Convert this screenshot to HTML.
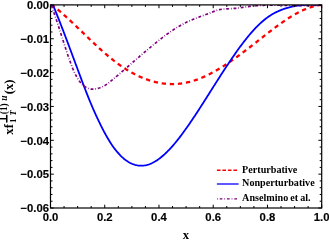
<!DOCTYPE html>
<html><head><meta charset="utf-8"><title>plot</title>
<style>
html,body{margin:0;padding:0;background:#fff;}
svg{display:block;will-change:transform;}
.tl text{font-family:"Liberation Sans",sans-serif;font-weight:bold;font-size:11.3px;fill:#000;stroke:#000;stroke-width:0.15px;}
.sf{font-family:"Liberation Serif",serif;font-weight:bold;fill:#000;}
</style></head><body>
<svg width="329" height="240" viewBox="0 0 329 240">
<clipPath id="c"><rect x="50.5" y="4.9" width="271.2" height="203.1"/></clipPath>
<g clip-path="url(#c)" fill="none">
<path d="M51.80,4.90 L52.70,5.59 L53.61,6.28 L54.51,6.99 L55.41,7.71 L56.31,8.44 L57.22,9.18 L58.12,9.92 L59.02,10.68 L59.92,11.44 L60.83,12.21 L61.73,12.99 L62.63,13.78 L63.53,14.57 L64.44,15.37 L65.34,16.18 L66.24,16.99 L67.15,17.81 L68.05,18.63 L68.95,19.46 L69.85,20.30 L70.76,21.14 L71.66,21.98 L72.56,22.83 L73.46,23.68 L74.37,24.53 L75.27,25.39 L76.17,26.25 L77.07,27.11 L77.98,27.97 L78.88,28.84 L79.78,29.71 L80.69,30.58 L81.59,31.45 L82.49,32.32 L83.39,33.19 L84.30,34.06 L85.20,34.93 L86.10,35.80 L87.00,36.67 L87.91,37.54 L88.81,38.41 L89.71,39.28 L90.62,40.14 L91.52,41.00 L92.42,41.86 L93.32,42.71 L94.23,43.57 L95.13,44.41 L96.03,45.26 L96.93,46.10 L97.84,46.93 L98.74,47.77 L99.64,48.59 L100.54,49.41 L101.45,50.23 L102.35,51.04 L103.25,51.84 L104.16,52.63 L105.06,53.42 L105.96,54.20 L106.86,54.98 L107.77,55.75 L108.67,56.50 L109.57,57.25 L110.47,57.99 L111.38,58.73 L112.28,59.45 L113.18,60.16 L114.08,60.86 L114.99,61.56 L115.89,62.24 L116.79,62.91 L117.70,63.58 L118.60,64.23 L119.50,64.88 L120.40,65.51 L121.31,66.13 L122.21,66.75 L123.11,67.35 L124.01,67.94 L124.92,68.52 L125.82,69.10 L126.72,69.66 L127.62,70.21 L128.53,70.75 L129.43,71.28 L130.33,71.81 L131.24,72.32 L132.14,72.82 L133.04,73.31 L133.94,73.79 L134.85,74.25 L135.75,74.71 L136.65,75.16 L137.55,75.60 L138.46,76.02 L139.36,76.44 L140.26,76.85 L141.16,77.24 L142.07,77.62 L142.97,78.00 L143.87,78.36 L144.78,78.71 L145.68,79.05 L146.58,79.38 L147.48,79.70 L148.39,80.00 L149.29,80.30 L150.19,80.59 L151.09,80.86 L152.00,81.12 L152.90,81.38 L153.80,81.62 L154.71,81.85 L155.61,82.07 L156.51,82.27 L157.41,82.47 L158.32,82.66 L159.22,82.83 L160.12,82.99 L161.02,83.14 L161.93,83.28 L162.83,83.41 L163.73,83.53 L164.63,83.63 L165.54,83.73 L166.44,83.81 L167.34,83.88 L168.25,83.94 L169.15,83.99 L170.05,84.02 L170.95,84.04 L171.86,84.06 L172.76,84.06 L173.66,84.05 L174.56,84.02 L175.47,83.99 L176.37,83.94 L177.27,83.88 L178.17,83.81 L179.08,83.73 L179.98,83.63 L180.88,83.53 L181.79,83.41 L182.69,83.28 L183.59,83.13 L184.49,82.98 L185.40,82.81 L186.30,82.63 L187.20,82.44 L188.10,82.24 L189.01,82.02 L189.91,81.79 L190.81,81.55 L191.71,81.30 L192.62,81.03 L193.52,80.76 L194.42,80.47 L195.33,80.17 L196.23,79.87 L197.13,79.55 L198.03,79.22 L198.94,78.87 L199.84,78.52 L200.74,78.16 L201.64,77.79 L202.55,77.41 L203.45,77.01 L204.35,76.61 L205.25,76.20 L206.16,75.78 L207.06,75.35 L207.96,74.91 L208.87,74.46 L209.77,74.01 L210.67,73.54 L211.57,73.07 L212.48,72.58 L213.38,72.09 L214.28,71.59 L215.18,71.09 L216.09,70.57 L216.99,70.05 L217.89,69.52 L218.79,68.99 L219.70,68.44 L220.60,67.89 L221.50,67.33 L222.41,66.77 L223.31,66.20 L224.21,65.62 L225.11,65.04 L226.02,64.45 L226.92,63.85 L227.82,63.25 L228.72,62.64 L229.63,62.03 L230.53,61.41 L231.43,60.79 L232.34,60.16 L233.24,59.53 L234.14,58.89 L235.04,58.25 L235.95,57.60 L236.85,56.95 L237.75,56.29 L238.65,55.63 L239.56,54.97 L240.46,54.30 L241.36,53.63 L242.26,52.95 L243.17,52.28 L244.07,51.60 L244.97,50.91 L245.88,50.23 L246.78,49.54 L247.68,48.85 L248.58,48.15 L249.49,47.46 L250.39,46.76 L251.29,46.06 L252.19,45.35 L253.10,44.65 L254.00,43.95 L254.90,43.24 L255.80,42.53 L256.71,41.82 L257.61,41.11 L258.51,40.40 L259.42,39.69 L260.32,38.98 L261.22,38.27 L262.12,37.56 L263.03,36.85 L263.93,36.14 L264.83,35.44 L265.73,34.73 L266.64,34.03 L267.54,33.32 L268.44,32.62 L269.34,31.93 L270.25,31.23 L271.15,30.54 L272.05,29.85 L272.96,29.17 L273.86,28.49 L274.76,27.81 L275.66,27.14 L276.57,26.47 L277.47,25.81 L278.37,25.15 L279.27,24.50 L280.18,23.85 L281.08,23.21 L281.98,22.57 L282.88,21.95 L283.79,21.33 L284.69,20.71 L285.59,20.11 L286.50,19.51 L287.40,18.92 L288.30,18.33 L289.20,17.76 L290.11,17.19 L291.01,16.63 L291.91,16.09 L292.81,15.55 L293.72,15.02 L294.62,14.50 L295.52,13.99 L296.43,13.49 L297.33,13.01 L298.23,12.53 L299.13,12.07 L300.04,11.61 L300.94,11.17 L301.84,10.74 L302.74,10.32 L303.65,9.92 L304.55,9.53 L305.45,9.15 L306.35,8.79 L307.26,8.43 L308.16,8.10 L309.06,7.77 L309.97,7.47 L310.87,7.17 L311.77,6.89 L312.67,6.63 L313.58,6.38 L314.48,6.15 L315.38,5.94 L316.28,5.74 L317.19,5.55 L318.09,5.39 L318.99,5.24 L319.89,5.11 L320.80,4.99 L321.70,4.90" stroke="#ff0000" stroke-width="2.3" stroke-dasharray="4.3 3.8" stroke-dashoffset="0.7"/>
<path d="M52.90,4.90 L53.80,7.04 L54.70,9.20 L55.60,11.40 L56.50,13.61 L57.39,15.85 L58.29,18.11 L59.19,20.39 L60.09,22.68 L60.99,24.99 L61.89,27.32 L62.79,29.66 L63.69,32.01 L64.59,34.37 L65.49,36.74 L66.38,39.12 L67.28,41.51 L68.18,43.90 L69.08,46.30 L69.98,48.70 L70.88,51.11 L71.78,53.52 L72.68,55.94 L73.58,58.36 L74.48,60.78 L75.37,63.19 L76.27,65.61 L77.17,68.03 L78.07,70.45 L78.97,72.87 L79.87,75.28 L80.77,77.68 L81.67,80.07 L82.57,82.46 L83.47,84.83 L84.36,87.18 L85.26,89.51 L86.16,91.83 L87.06,94.12 L87.96,96.39 L88.86,98.62 L89.76,100.83 L90.66,103.01 L91.56,105.15 L92.46,107.26 L93.35,109.33 L94.25,111.37 L95.15,113.37 L96.05,115.35 L96.95,117.29 L97.85,119.20 L98.75,121.09 L99.65,122.95 L100.55,124.78 L101.45,126.59 L102.34,128.38 L103.24,130.13 L104.14,131.85 L105.04,133.53 L105.94,135.17 L106.84,136.77 L107.74,138.32 L108.64,139.83 L109.54,141.29 L110.44,142.71 L111.33,144.08 L112.23,145.40 L113.13,146.69 L114.03,147.93 L114.93,149.12 L115.83,150.28 L116.73,151.39 L117.63,152.45 L118.53,153.47 L119.43,154.45 L120.32,155.39 L121.22,156.28 L122.12,157.13 L123.02,157.94 L123.92,158.71 L124.82,159.44 L125.72,160.12 L126.62,160.77 L127.52,161.37 L128.42,161.94 L129.31,162.46 L130.21,162.94 L131.11,163.38 L132.01,163.79 L132.91,164.15 L133.81,164.48 L134.71,164.76 L135.61,165.01 L136.51,165.22 L137.41,165.40 L138.30,165.53 L139.20,165.63 L140.10,165.69 L141.00,165.71 L141.90,165.70 L142.80,165.65 L143.70,165.56 L144.60,165.44 L145.50,165.28 L146.40,165.09 L147.29,164.86 L148.19,164.60 L149.09,164.30 L149.99,163.97 L150.89,163.60 L151.79,163.20 L152.69,162.77 L153.59,162.31 L154.49,161.81 L155.39,161.29 L156.28,160.73 L157.18,160.14 L158.08,159.53 L158.98,158.88 L159.88,158.21 L160.78,157.51 L161.68,156.78 L162.58,156.02 L163.48,155.24 L164.38,154.44 L165.27,153.61 L166.17,152.75 L167.07,151.87 L167.97,150.97 L168.87,150.04 L169.77,149.09 L170.67,148.12 L171.57,147.13 L172.47,146.12 L173.37,145.08 L174.26,144.03 L175.16,142.96 L176.06,141.87 L176.96,140.76 L177.86,139.64 L178.76,138.50 L179.66,137.34 L180.56,136.16 L181.46,134.98 L182.36,133.77 L183.25,132.55 L184.15,131.32 L185.05,130.08 L185.95,128.82 L186.85,127.55 L187.75,126.27 L188.65,124.98 L189.55,123.67 L190.45,122.36 L191.35,121.04 L192.24,119.71 L193.14,118.36 L194.04,117.02 L194.94,115.66 L195.84,114.29 L196.74,112.92 L197.64,111.54 L198.54,110.16 L199.44,108.77 L200.34,107.37 L201.23,105.97 L202.13,104.57 L203.03,103.16 L203.93,101.75 L204.83,100.33 L205.73,98.92 L206.63,97.50 L207.53,96.08 L208.43,94.65 L209.33,93.23 L210.22,91.81 L211.12,90.39 L212.02,88.96 L212.92,87.54 L213.82,86.12 L214.72,84.71 L215.62,83.29 L216.52,81.88 L217.42,80.47 L218.32,79.06 L219.21,77.66 L220.11,76.26 L221.01,74.86 L221.91,73.47 L222.81,72.09 L223.71,70.70 L224.61,69.33 L225.51,67.96 L226.41,66.60 L227.31,65.24 L228.20,63.89 L229.10,62.54 L230.00,61.21 L230.90,59.88 L231.80,58.56 L232.70,57.24 L233.60,55.94 L234.50,54.64 L235.40,53.36 L236.30,52.08 L237.19,50.82 L238.09,49.57 L238.99,48.32 L239.89,47.09 L240.79,45.87 L241.69,44.67 L242.59,43.48 L243.49,42.30 L244.39,41.13 L245.29,39.98 L246.18,38.85 L247.08,37.73 L247.98,36.62 L248.88,35.54 L249.78,34.46 L250.68,33.41 L251.58,32.37 L252.48,31.36 L253.38,30.36 L254.28,29.37 L255.17,28.41 L256.07,27.47 L256.97,26.55 L257.87,25.65 L258.77,24.77 L259.67,23.91 L260.57,23.07 L261.47,22.26 L262.37,21.47 L263.27,20.70 L264.16,19.96 L265.06,19.24 L265.96,18.54 L266.86,17.87 L267.76,17.22 L268.66,16.59 L269.56,15.99 L270.46,15.41 L271.36,14.85 L272.26,14.31 L273.15,13.79 L274.05,13.29 L274.95,12.81 L275.85,12.35 L276.75,11.91 L277.65,11.48 L278.55,11.07 L279.45,10.67 L280.35,10.30 L281.25,9.93 L282.14,9.58 L283.04,9.25 L283.94,8.93 L284.84,8.63 L285.74,8.34 L286.64,8.06 L287.54,7.79 L288.44,7.54 L289.34,7.31 L290.24,7.08 L291.13,6.87 L292.03,6.67 L292.93,6.48 L293.83,6.30 L294.73,6.13 L295.63,5.97 L296.53,5.83 L297.43,5.69 L298.33,5.57 L299.23,5.45 L300.12,5.34 L301.02,5.25 L301.92,5.16 L302.82,5.08 L303.72,5.01 L304.62,4.94 L305.52,4.89 L306.42,4.84 L307.32,4.80 L308.22,4.76 L309.11,4.74 L310.01,4.72 L310.91,4.70 L311.81,4.69 L312.71,4.69 L313.61,4.69 L314.51,4.70 L315.41,4.71 L316.31,4.73 L317.21,4.75 L318.10,4.77 L319.00,4.80 L319.90,4.83 L320.80,4.86 L321.70,4.90" stroke="#0000ff" stroke-width="1.8"/>
<path d="M51.10,4.90 L52.01,7.29 L52.91,9.75 L53.82,12.29 L54.72,14.89 L55.63,17.55 L56.53,20.25 L57.44,23.00 L58.34,25.78 L59.25,28.59 L60.15,31.42 L61.06,34.26 L61.96,37.10 L62.87,39.94 L63.77,42.76 L64.68,45.57 L65.58,48.35 L66.49,51.10 L67.39,53.80 L68.30,56.46 L69.20,59.05 L70.11,61.58 L71.01,64.02 L71.92,66.37 L72.82,68.61 L73.73,70.73 L74.63,72.73 L75.54,74.60 L76.44,76.34 L77.35,77.94 L78.25,79.41 L79.16,80.75 L80.06,81.97 L80.97,83.08 L81.87,84.07 L82.78,84.96 L83.68,85.75 L84.59,86.44 L85.49,87.04 L86.40,87.56 L87.30,88.01 L88.21,88.37 L89.11,88.66 L90.02,88.88 L90.92,89.04 L91.83,89.13 L92.73,89.17 L93.64,89.14 L94.54,89.07 L95.45,88.95 L96.35,88.78 L97.26,88.57 L98.16,88.32 L99.07,88.03 L99.97,87.72 L100.88,87.37 L101.78,86.99 L102.69,86.58 L103.59,86.14 L104.50,85.66 L105.40,85.13 L106.31,84.56 L107.21,83.95 L108.12,83.30 L109.02,82.62 L109.93,81.91 L110.83,81.18 L111.74,80.43 L112.64,79.68 L113.55,78.92 L114.45,78.16 L115.36,77.40 L116.26,76.63 L117.17,75.86 L118.07,75.09 L118.98,74.31 L119.88,73.54 L120.79,72.76 L121.69,71.98 L122.60,71.20 L123.50,70.42 L124.41,69.63 L125.31,68.85 L126.22,68.06 L127.12,67.27 L128.03,66.49 L128.93,65.70 L129.84,64.91 L130.74,64.12 L131.65,63.33 L132.55,62.54 L133.46,61.75 L134.36,60.97 L135.27,60.18 L136.17,59.39 L137.08,58.61 L137.98,57.82 L138.89,57.04 L139.79,56.25 L140.70,55.47 L141.60,54.69 L142.51,53.92 L143.41,53.14 L144.32,52.37 L145.22,51.60 L146.13,50.83 L147.03,50.06 L147.94,49.30 L148.84,48.54 L149.75,47.78 L150.65,47.03 L151.56,46.28 L152.46,45.53 L153.37,44.79 L154.27,44.05 L155.18,43.32 L156.08,42.59 L156.99,41.86 L157.89,41.14 L158.80,40.43 L159.70,39.71 L160.61,39.01 L161.51,38.31 L162.42,37.62 L163.32,36.93 L164.23,36.25 L165.13,35.57 L166.04,34.91 L166.94,34.25 L167.85,33.60 L168.75,32.95 L169.66,32.32 L170.56,31.69 L171.47,31.07 L172.37,30.46 L173.28,29.86 L174.18,29.27 L175.09,28.68 L175.99,28.11 L176.90,27.55 L177.80,27.00 L178.71,26.46 L179.61,25.92 L180.52,25.41 L181.42,24.90 L182.33,24.40 L183.23,23.92 L184.14,23.45 L185.04,22.99 L185.95,22.54 L186.85,22.10 L187.76,21.68 L188.66,21.26 L189.57,20.86 L190.47,20.46 L191.38,20.07 L192.28,19.69 L193.19,19.32 L194.09,18.96 L195.00,18.60 L195.90,18.24 L196.81,17.90 L197.71,17.55 L198.62,17.21 L199.52,16.87 L200.43,16.54 L201.33,16.21 L202.24,15.88 L203.14,15.55 L204.05,15.22 L204.95,14.89 L205.86,14.56 L206.76,14.23 L207.67,13.89 L208.57,13.55 L209.48,13.20 L210.38,12.85 L211.29,12.49 L212.19,12.13 L213.10,11.76 L214.00,11.40 L214.91,11.05 L215.81,10.72 L216.72,10.41 L217.62,10.13 L218.53,9.88 L219.43,9.67 L220.34,9.49 L221.24,9.34 L222.15,9.21 L223.05,9.10 L223.96,9.01 L224.86,8.94 L225.77,8.88 L226.67,8.82 L227.58,8.78 L228.48,8.74 L229.39,8.70 L230.29,8.66 L231.20,8.62 L232.10,8.57 L233.01,8.51 L233.91,8.45 L234.82,8.38 L235.72,8.29 L236.63,8.21 L237.53,8.11 L238.44,8.00 L239.34,7.89 L240.25,7.76 L241.15,7.64 L242.06,7.50 L242.96,7.37 L243.87,7.23 L244.77,7.09 L245.68,6.96 L246.58,6.82 L247.49,6.69 L248.39,6.57 L249.30,6.45 L250.20,6.33 L251.11,6.22 L252.01,6.12 L252.92,6.03 L253.82,5.94 L254.73,5.86 L255.63,5.78 L256.54,5.70 L257.44,5.64 L258.35,5.58 L259.25,5.52 L260.16,5.47 L261.06,5.42 L261.97,5.38 L262.87,5.34 L263.78,5.30 L264.68,5.27 L265.59,5.25 L266.49,5.22 L267.40,5.21 L268.30,5.19 L269.21,5.18 L270.11,5.17 L271.02,5.16 L271.92,5.16 L272.83,5.16 L273.73,5.16 L274.64,5.17 L275.54,5.17 L276.45,5.18 L277.35,5.19 L278.26,5.21 L279.16,5.22 L280.07,5.23 L280.97,5.25 L281.88,5.27 L282.78,5.29 L283.69,5.31 L284.59,5.33 L285.50,5.35 L286.40,5.37 L287.31,5.39 L288.21,5.42 L289.12,5.44 L290.02,5.46 L290.93,5.48 L291.83,5.50 L292.74,5.52 L293.64,5.54 L294.55,5.56 L295.45,5.58 L296.36,5.59 L297.26,5.61 L298.17,5.62 L299.07,5.63 L299.98,5.64 L300.88,5.65 L301.79,5.65 L302.69,5.66 L303.60,5.66 L304.50,5.65 L305.41,5.65 L306.31,5.64 L307.22,5.63 L308.12,5.62 L309.03,5.60 L309.93,5.58 L310.84,5.55 L311.74,5.52 L312.65,5.49 L313.55,5.45 L314.46,5.41 L315.36,5.36 L316.27,5.31 L317.17,5.26 L318.08,5.20 L318.98,5.13 L319.89,5.06 L320.79,4.98 L321.70,4.90" stroke="#800080" stroke-width="1.7" stroke-dasharray="2.9 1.85 0.7 1.85" stroke-dashoffset="-0.6"/>
</g>
<rect x="50.5" y="4.9" width="271.2" height="203.1" fill="none" stroke="#000" stroke-width="1.2"/>
<path d="M50.50,208.0 v-3.3 M50.50,4.9 v3.3 M64.06,208.0 v-2.0 M64.06,4.9 v2.0 M77.62,208.0 v-2.0 M77.62,4.9 v2.0 M91.18,208.0 v-2.0 M91.18,4.9 v2.0 M104.74,208.0 v-3.3 M104.74,4.9 v3.3 M118.30,208.0 v-2.0 M118.30,4.9 v2.0 M131.86,208.0 v-2.0 M131.86,4.9 v2.0 M145.42,208.0 v-2.0 M145.42,4.9 v2.0 M158.98,208.0 v-3.3 M158.98,4.9 v3.3 M172.54,208.0 v-2.0 M172.54,4.9 v2.0 M186.10,208.0 v-2.0 M186.10,4.9 v2.0 M199.66,208.0 v-2.0 M199.66,4.9 v2.0 M213.22,208.0 v-3.3 M213.22,4.9 v3.3 M226.78,208.0 v-2.0 M226.78,4.9 v2.0 M240.34,208.0 v-2.0 M240.34,4.9 v2.0 M253.90,208.0 v-2.0 M253.90,4.9 v2.0 M267.46,208.0 v-3.3 M267.46,4.9 v3.3 M281.02,208.0 v-2.0 M281.02,4.9 v2.0 M294.58,208.0 v-2.0 M294.58,4.9 v2.0 M308.14,208.0 v-2.0 M308.14,4.9 v2.0 M321.70,208.0 v-3.3 M321.70,4.9 v3.3 M50.5,4.90 h3.3 M321.7,4.90 h-3.3 M50.5,11.67 h2.0 M321.7,11.67 h-2.0 M50.5,18.44 h2.0 M321.7,18.44 h-2.0 M50.5,25.21 h2.0 M321.7,25.21 h-2.0 M50.5,31.98 h2.0 M321.7,31.98 h-2.0 M50.5,38.75 h3.3 M321.7,38.75 h-3.3 M50.5,45.52 h2.0 M321.7,45.52 h-2.0 M50.5,52.29 h2.0 M321.7,52.29 h-2.0 M50.5,59.06 h2.0 M321.7,59.06 h-2.0 M50.5,65.83 h2.0 M321.7,65.83 h-2.0 M50.5,72.60 h3.3 M321.7,72.60 h-3.3 M50.5,79.37 h2.0 M321.7,79.37 h-2.0 M50.5,86.14 h2.0 M321.7,86.14 h-2.0 M50.5,92.91 h2.0 M321.7,92.91 h-2.0 M50.5,99.68 h2.0 M321.7,99.68 h-2.0 M50.5,106.45 h3.3 M321.7,106.45 h-3.3 M50.5,113.22 h2.0 M321.7,113.22 h-2.0 M50.5,119.99 h2.0 M321.7,119.99 h-2.0 M50.5,126.76 h2.0 M321.7,126.76 h-2.0 M50.5,133.53 h2.0 M321.7,133.53 h-2.0 M50.5,140.30 h3.3 M321.7,140.30 h-3.3 M50.5,147.07 h2.0 M321.7,147.07 h-2.0 M50.5,153.84 h2.0 M321.7,153.84 h-2.0 M50.5,160.61 h2.0 M321.7,160.61 h-2.0 M50.5,167.38 h2.0 M321.7,167.38 h-2.0 M50.5,174.15 h3.3 M321.7,174.15 h-3.3 M50.5,180.92 h2.0 M321.7,180.92 h-2.0 M50.5,187.69 h2.0 M321.7,187.69 h-2.0 M50.5,194.46 h2.0 M321.7,194.46 h-2.0 M50.5,201.23 h2.0 M321.7,201.23 h-2.0 M50.5,208.00 h3.3 M321.7,208.00 h-3.3" stroke="#000" stroke-width="1" fill="none"/>
<g class="tl"><text x="50.50" y="220.8" text-anchor="middle">0.0</text><text x="104.74" y="220.8" text-anchor="middle">0.2</text><text x="158.98" y="220.8" text-anchor="middle">0.4</text><text x="213.22" y="220.8" text-anchor="middle">0.6</text><text x="267.46" y="220.8" text-anchor="middle">0.8</text><text x="321.70" y="220.8" text-anchor="middle">1.0</text><text x="49.0" y="9.15" text-anchor="end">0.00</text><text x="49.0" y="43.00" text-anchor="end">−0.01</text><text x="49.0" y="76.85" text-anchor="end">−0.02</text><text x="49.0" y="110.70" text-anchor="end">−0.03</text><text x="49.0" y="144.55" text-anchor="end">−0.04</text><text x="49.0" y="178.40" text-anchor="end">−0.05</text><text x="49.0" y="212.25" text-anchor="end">−0.06</text></g>
<text class="sf" x="186" y="239.2" text-anchor="middle" font-size="12.7">x</text>
<g transform="translate(13.0,134.7) rotate(-90)" class="sf">
<text x="0" y="0" font-size="12.7">xf</text>
<text x="11.6" y="3.0" font-size="9">1</text>
<text x="19.0" y="3.0" font-size="9" font-style="italic">T</text>
<text x="11.5" y="-6.5" font-size="10" stroke="#000" stroke-width="0.4">⊥</text>
<text x="20.5" y="-6.5" font-size="9.3">(1)</text>
<text x="34.0" y="-6.5" font-size="9.5" font-style="italic">u</text>
<text x="40.5" y="0" font-size="12.7">(x)</text>
</g>
<g fill="none">
<path d="M216.9,170.3 H238.6" stroke="#ff0000" stroke-width="1.5" stroke-dasharray="3.6 1.9"/>
<path d="M216.9,184 H238.6" stroke="#0000ff" stroke-width="1.3"/>
<path d="M216.9,198.8 H238.6" stroke="#800080" stroke-width="1.3" stroke-dasharray="2.7 1.9 0.8 1.9" stroke-dashoffset="4.5"/>
</g>
<g class="sf" font-size="10.15">
<text x="242.1" y="172.9">Perturbative</text>
<text x="242.1" y="186.4">Nonperturbative</text>
<text x="242.1" y="201.0" word-spacing="-0.5">Anselmino et al.</text>
</g>
</svg>
</body></html>
